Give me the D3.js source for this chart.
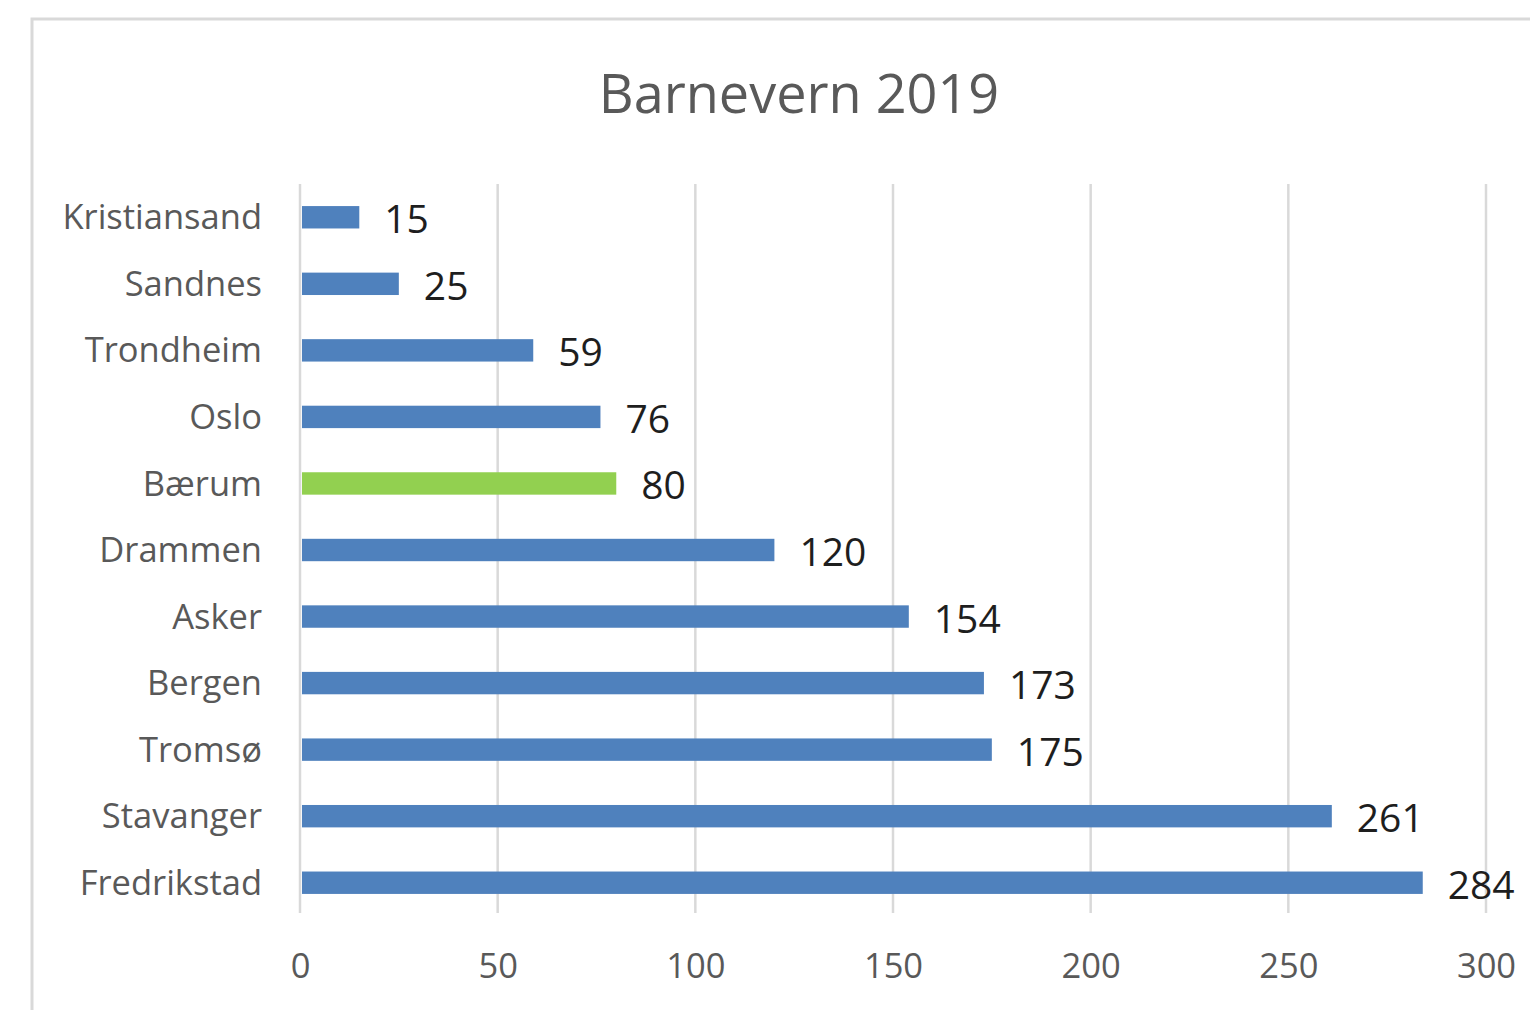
<!DOCTYPE html>
<html>
<head>
<meta charset="utf-8">
<script src="https://cdn.jsdelivr.net/npm/d3@7/dist/d3.min.js"></script>
<style>
  html, body { margin: 0; padding: 0; background: #fff; }
  svg { display: block; }
</style>
</head>
<body>
<svg id="chart" width="1530" height="1010"></svg>
<script>
const categories = ["Kristiansand", "Sandnes", "Trondheim", "Oslo", "Bærum", "Drammen", "Asker", "Bergen", "Tromsø", "Stavanger", "Fredrikstad"];
const values = [15, 25, 59, 76, 80, 120, 154, 173, 175, 261, 284];
const highlight = ["Bærum"];
const tickValues = [0, 50, 100, 150, 200, 250, 300];
const title = "Barnevern 2019";

const FONT = "'Open Sans', 'Noto Sans', sans-serif";
const svg = d3.select("#chart");

// chart frame
svg.append("rect")
  .attr("x", 32).attr("y", 19)
  .attr("width", 1700).attr("height", 1200)
  .attr("fill", "none")
  .attr("stroke", "#d9d9d9")
  .attr("stroke-width", 3);

const x = d3.scaleLinear().domain([0, 300]).range([300, 1486]);
const y = d3.scaleBand().domain(categories).range([184, 916]).paddingInner(0.665).paddingOuter(0.3325);

const plotTop = 184, plotBottom = 913;

// gridlines
svg.append("g").selectAll("line")
  .data(tickValues)
  .join("line")
  .attr("x1", d => x(d)).attr("x2", d => x(d))
  .attr("y1", plotTop).attr("y2", plotBottom)
  .attr("stroke", "#d9d9d9")
  .attr("stroke-width", 2.5);

// x axis tick labels via d3 axis
const xAxis = d3.axisBottom(x).tickValues(tickValues).tickSize(0).tickPadding(0);
const gx = svg.append("g").attr("transform", `translate(0,${plotBottom})`).call(xAxis);
gx.select(".domain").remove();
gx.selectAll("text")
  .attr("dy", null)
  .attr("y", 65)
  .attr("font-family", FONT)
  .attr("font-size", 34.5)
  .attr("fill", "#595959");

// y axis category labels via d3 axis
const yAxis = d3.axisLeft(y).tickSize(0).tickPadding(0);
const gy = svg.append("g").attr("transform", `translate(262,0)`).call(yAxis);
gy.select(".domain").remove();
gy.selectAll("text")
  .attr("dy", "0.35em")
  .attr("font-family", FONT)
  .attr("font-size", 34.5)
  .attr("fill", "#595959");

const data = categories.map((c, i) => ({ c, v: values[i] }));

// bars
svg.append("g").selectAll("rect")
  .data(data)
  .join("rect")
  .attr("x", x(0) + 2)
  .attr("y", d => y(d.c) + y.bandwidth() / 2 - 11.2)
  .attr("width", d => x(d.v) - x(0) - 2)
  .attr("height", 22.4)
  .attr("fill", d => highlight.includes(d.c) ? "#92d050" : "#4f81bd");

// value labels
svg.append("g").selectAll("text")
  .data(data)
  .join("text")
  .attr("x", d => x(d.v) + 25)
  .attr("y", d => y(d.c) + y.bandwidth() / 2 + 16)
  .attr("font-family", FONT)
  .attr("font-size", 39)
  .attr("fill", "#1e1e1e")
  .text(d => d.v);

// title
svg.append("text")
  .attr("x", 799)
  .attr("y", 113)
  .attr("text-anchor", "middle")
  .attr("font-family", FONT)
  .attr("font-size", 54)
  .attr("fill", "#595959")
  .text(title);
</script>
</body>
</html>
